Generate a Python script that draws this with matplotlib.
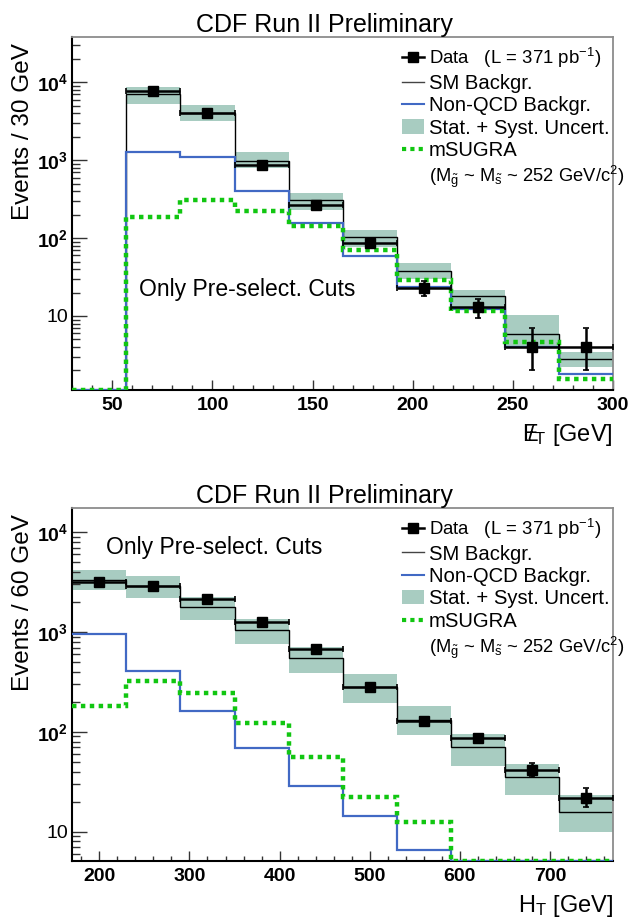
import numpy as np
import matplotlib
matplotlib.use("Agg")
import matplotlib.pyplot as plt
from matplotlib.lines import Line2D
from matplotlib.patches import Patch
from matplotlib.ticker import MultipleLocator, LogLocator, NullFormatter

plt.rcParams['font.family'] = ['Liberation Sans', 'DejaVu Sans']
plt.rcParams['mathtext.fontset'] = 'custom'
plt.rcParams['mathtext.rm'] = 'Liberation Sans'
plt.rcParams['mathtext.it'] = 'Liberation Sans:italic'
plt.rcParams['mathtext.bf'] = 'Liberation Sans:bold'
plt.rcParams['mathtext.default'] = 'regular'

# --- missing E_T (27 GeV bins) ---
met_edges = [30, 57, 84, 111, 138, 165, 192, 219, 246, 273, 300]
met_data = [np.nan, 7800, 4000, 860, 265, 86, 23, 13, 4, 4]
met_data_lo = [0, 88, 63, 29, 16, 9.3, 4.8, 3.7, 2.0, 2.0]
met_data_hi = [0, 88, 63, 29, 16, 9.3, 5.2, 3.6, 3.1, 3.1]
met_sm = [0, 7050, 4000, 980, 310, 104, 37.6, 18.2, 5.9, 2.8]
met_band_lo = [0, 5300, 3170, 787, 231, 76, 30, 13, 4.1, 2.19]
met_band_hi = [0, 8600, 5070, 1260, 380, 127, 47.5, 21.8, 10.2, 3.42]
met_nonqcd = [0, 1280, 1110, 399, 157, 59, 23.4, 12.3, 3.97, 1.8]
met_msugra = [0, 184, 305, 226, 141, 70.5, 28.8, 11.5, 4.7, 1.55]

# --- H_T (60 GeV bins) ---
ht_edges = [170, 230, 290, 350, 410, 470, 530, 590, 650, 710, 770]
ht_data = [3160, 2880, 2120, 1250, 680, 280, 130, 86, 42, 22]
ht_data_lo = [56, 54, 46, 35, 26, 17, 11.4, 9.3, 7, 4.4]
ht_data_hi = [56, 54, 46, 35, 26, 17, 11.4, 9.3, 7, 5.4]
ht_sm = [3300, 2900, 1800, 1050, 551, 280, 133, 71, 35, 15.9]
ht_band_lo = [2650, 2180, 1330, 762, 390, 194, 94, 46, 23.5, 10.0]
ht_band_hi = [4230, 3680, 2220, 1360, 704, 381, 183, 96, 48, 23.4]
ht_nonqcd = [960, 411, 163, 69, 29, 14.4, 6.6, 0, 0, 0]
ht_msugra = [183, 327, 246, 122, 56.5, 22.4, 12.6, 0, 0, 0]

ytick_vals = [10, 100, 1000, 10000]
ytick_labels = ['10', r'$\mathbf{10^{2}}$', r'$\mathbf{10^{3}}$', r'$\mathbf{10^{4}}$']

legend_labels = [r'Data   (L = 371 pb$^{-1}$)', 'SM Backgr.', 'Non-QCD Backgr.',
                 'Stat. + Syst. Uncert.', 'mSUGRA',
                 r'($M_{\tilde{g}}$ ~ $M_{\tilde{s}}$ ~ 252 GeV/c$^{2}$)']

BAND = '#a8ccc1'
BLUE = '#4169c4'
GREEN = '#11c611'


def draw_panel(ax, edges, data, dlo, dhi, sm, blo, bhi, nonqcd, msugra, ylim):
    edges = np.asarray(edges, float)
    centers = 0.5 * (edges[1:] + edges[:-1])
    halfw = 0.5 * np.diff(edges)
    floor = ylim[0]
    clip = lambda v: np.clip(np.asarray(v, float), floor, None)

    ax.set_yscale('log')
    ax.stairs(clip(bhi), edges, baseline=clip(blo), fill=True, color=BAND, lw=0, zorder=1)
    ax.stairs(clip(sm), edges, baseline=None, color='k', lw=1.0, zorder=2)
    ax.stairs(clip(nonqcd), edges, baseline=None, color=BLUE, lw=1.6, zorder=3)
    ax.stairs(clip(msugra), edges, baseline=None, color=GREEN, lw=3.2, ls=(0, (1, 1)), zorder=4)
    ax.errorbar(centers, data, xerr=halfw, yerr=[dlo, dhi], fmt='s', ms=7.5,
                color='k', elinewidth=1.8, capsize=2.5, capthick=1.2, zorder=5)

    ax.set_xlim(edges[0], edges[-1])
    ax.set_ylim(*ylim)
    ax.set_yticks(ytick_vals, ytick_labels, fontsize=14)
    ax.yaxis.set_minor_locator(LogLocator(subs=np.arange(2, 10)))
    ax.yaxis.set_minor_formatter(NullFormatter())

    ax.tick_params(which='both', direction='in', top=False, right=False, color='#333333')
    ax.tick_params(axis='y', which='major', length=10.5, width=1, pad=3)
    ax.tick_params(axis='y', which='minor', length=5.5, width=1)
    ax.tick_params(axis='x', which='major', length=7.5, width=1, pad=5)
    ax.tick_params(axis='x', which='minor', length=3.7, width=1)
    for side in ('left', 'bottom'):
        ax.spines[side].set_linewidth(1.5)
        ax.spines[side].set_color('k')
    for side in ('top', 'right'):
        ax.spines[side].set_linewidth(1.3)
        ax.spines[side].set_color('#8c8c8c')

    handles = [Line2D([], [], color='k', marker='s', ms=7, lw=1.8),
               Line2D([], [], color='#444444', lw=1.0),
               Line2D([], [], color=BLUE, lw=1.5),
               Patch(facecolor=BAND, edgecolor='none'),
               Line2D([], [], color=GREEN, lw=3, ls=(0, (1, 1))),
               Line2D([], [], color='none')]
    leg = ax.legend(handles, legend_labels, loc='upper left', bbox_to_anchor=(0.609, 0.975),
                    frameon=False, fontsize=14.6, handlelength=1.1, handletextpad=0.25,
                    labelspacing=0.17, borderpad=0, borderaxespad=0)
    leg.get_texts()[0].set_fontsize(13.4)
    leg.get_texts()[-1].set_fontsize(13.2)
    ax.text(0.4666, 1.036, 'CDF Run II Preliminary', transform=ax.transAxes,
            ha='center', va='center', fontsize=18)


fig = plt.figure(figsize=(6.34, 9.22), dpi=100)
ax1 = fig.add_axes([0.114, 0.577, 0.853, 0.3826])
ax2 = fig.add_axes([0.114, 0.0662, 0.853, 0.3826])

draw_panel(ax1, met_edges, met_data, met_data_lo, met_data_hi, met_sm,
           met_band_lo, met_band_hi, met_nonqcd, met_msugra, (1.12, 3.8e4))
draw_panel(ax2, ht_edges, ht_data, ht_data_lo, ht_data_hi, ht_sm,
           ht_band_lo, ht_band_hi, ht_nonqcd, ht_msugra, (5.1, 1.74e4))

ax1.set_xticks([50, 100, 150, 200, 250, 300], ['50', '100', '150', '200', '250', '300'],
               fontsize=14, fontweight='bold')
ax1.xaxis.set_minor_locator(MultipleLocator(10))
ax2.set_xticks([200, 300, 400, 500, 600, 700], ['200', '300', '400', '500', '600', '700'],
               fontsize=14, fontweight='bold')
ax2.xaxis.set_minor_locator(MultipleLocator(20))

for ax, ylab, xlab in ((ax1, 'Events / 30 GeV', r'$E\!\!\!/_{T}$ [GeV]'),
                       (ax2, 'Events / 60 GeV', r'$H_{T}$ [GeV]')):
    ax.set_ylabel(ylab, loc='top', fontsize=17.5)
    ax.yaxis.set_label_coords(-0.071, 0.984)
    ax.set_xlabel(xlab, loc='right', fontsize=17)
    ax.xaxis.set_label_coords(1.0, -0.09)

ax1.text(0.124, 0.2835, 'Only Pre-select. Cuts', transform=ax1.transAxes,
         ha='left', va='center', fontsize=16.5)
ax2.text(0.0623, 0.889, 'Only Pre-select. Cuts', transform=ax2.transAxes,
         ha='left', va='center', fontsize=16.5)

fig.savefig('out.png', dpi=100)
